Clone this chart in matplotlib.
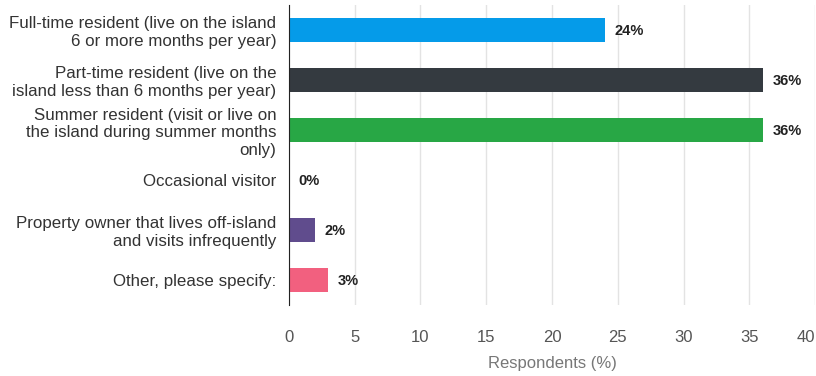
import matplotlib.pyplot as plt

plt.rcParams['font.family'] = ['Liberation Sans', 'DejaVu Sans']

categories = [
    'Full-time resident (live on the island\n6 or more months per year)',
    'Part-time resident (live on the\nisland less than 6 months per year)',
    'Summer resident (visit or live on\nthe island during summer months\nonly)',
    'Occasional visitor',
    'Property owner that lives off-island\nand visits infrequently',
    'Other, please specify:',
]
values = [24, 36, 36, 0, 2, 3]
colors = ['#059BE9', '#343A40', '#28A745', '#17A2B8', '#604C8D', '#F2607F']
xticks = [0, 5, 10, 15, 20, 25, 30, 35, 40]

fig = plt.figure(figsize=(8.16, 3.76), dpi=100)
ax = fig.add_axes([0.354, 0.189, 0.645, 0.798])

ypos = list(range(len(categories)))
ax.barh(ypos, values, height=0.47, color=colors, zorder=3)

for y, v in zip(ypos, values):
    ax.annotate(f'{v}%', xy=(v, y), xytext=(7, -1), textcoords='offset points',
                va='center', ha='left', fontsize=10.5, fontweight='bold', color='#222222')

ax.set_xlim(0, 40)
ax.set_ylim(5.5, -0.5)
ax.set_xticks(xticks)
ax.set_yticks(ypos)
ax.set_yticklabels(categories, fontsize=12.2, color='#333333', linespacing=1.2)
ax.tick_params(axis='x', length=0, pad=18, labelsize=12, labelcolor='#555555')
ax.tick_params(axis='y', length=0, pad=9)
# keep the last tick label inside the canvas
ax.get_xticklabels()[-1].set_horizontalalignment('right')
ax.grid(axis='x', color='#e3e3e3', linewidth=1, zorder=0)
for s in ['top', 'right', 'bottom']:
    ax.spines[s].set_visible(False)
ax.spines['left'].set_color('#222222')
ax.spines['left'].set_zorder(4)
ax.set_xlabel('Respondents (%)', fontsize=12, color='#777777', labelpad=8)

fig.savefig('out.png', dpi=100)
